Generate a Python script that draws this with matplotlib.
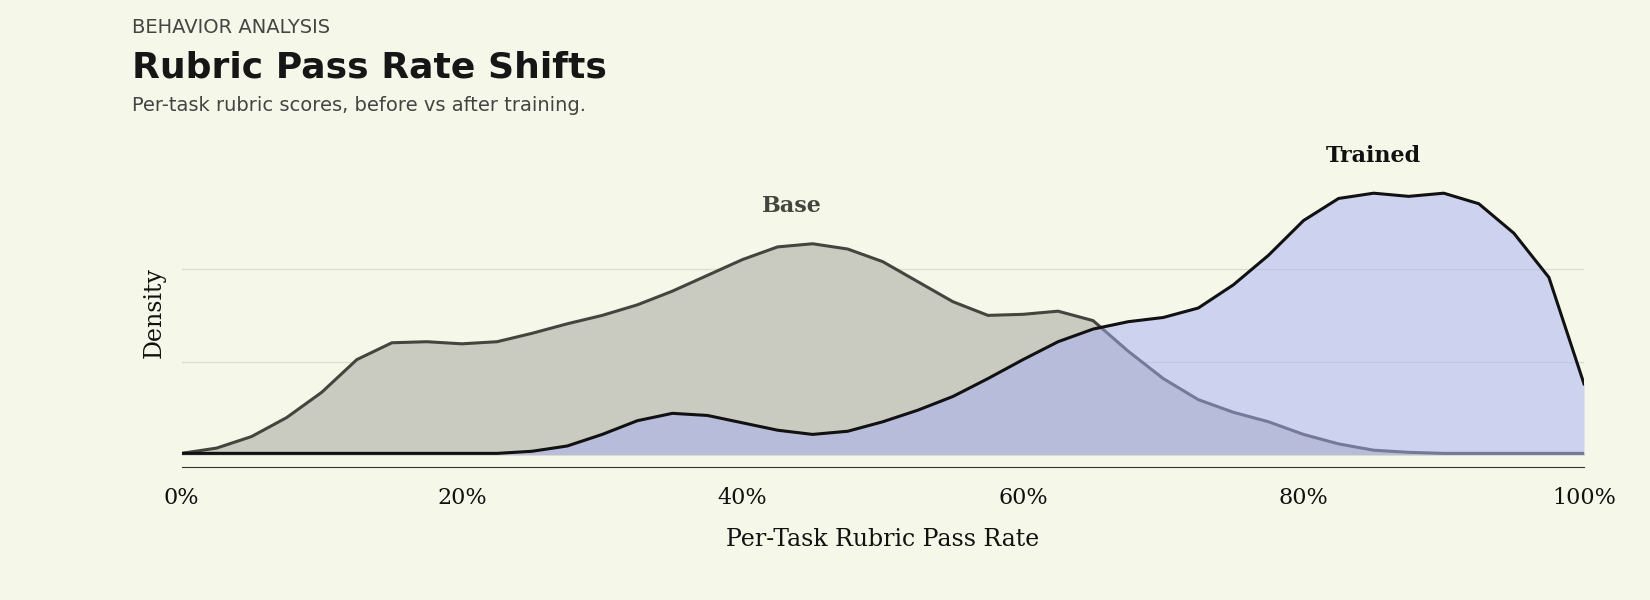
import numpy as np
import matplotlib
matplotlib.use("Agg")
import matplotlib.pyplot as plt

# values, density in gridline units
x_pct = [0, 2.5, 5, 7.5, 10, 12.5, 15, 17.5, 20, 22.5, 25, 27.5, 30, 32.5, 35, 37.5,
         40, 42.5, 45, 47.5, 50, 52.5, 55, 57.5, 60, 62.5, 65, 67.5, 70, 72.5, 75,
         77.5, 80, 82.5, 85, 87.5, 90, 92.5, 95, 97.5, 100]
base_px = [431, 426, 415, 397, 373, 342, 326, 325, 327, 325, 317, 308, 300, 290, 277, 262,
           247, 235, 232, 237, 249, 268, 287, 300, 299, 296, 305, 334, 360, 380, 392,
           401, 413, 422, 428, 430, 431, 431, 431, 431, 431]
trained_px = [431, 431, 431, 431, 431, 431, 431, 431, 431, 431, 429, 424, 413, 400, 393, 395,
              402, 409, 413, 410, 401, 390, 377, 360, 342, 325, 313, 306, 302, 293, 271,
              243, 210, 189, 184, 187, 184, 194, 222, 264, 365]

base = [(432 - v) / 88 for v in base_px]
trained = [(432 - v) / 88 for v in trained_px]
x = [v / 100 for v in x_pct]

bg = "#f5f8e8"
fig = plt.figure(figsize=(16.5, 6), dpi=100, facecolor=bg)
ax = fig.add_axes([0.11, 0.221, 0.85, 0.516], facecolor=bg)

ax.fill_between(x, base, color="#c9cbc0", zorder=2)
ax.plot(x, base, color="#454540", lw=2.2, zorder=3)
ax.fill_between(x, trained, color="#a7aef4", alpha=0.5, lw=0, zorder=4)
ax.plot(x, trained, color="#111111", lw=2.2, zorder=5)

ax.text(0.435, 2.62, "Base", family="DejaVu Serif", fontsize=16, fontweight="bold",
        color="#454540", ha="center")
ax.text(0.85, 3.16, "Trained", family="DejaVu Serif", fontsize=16, fontweight="bold",
        color="#111111", ha="center")

ax.set_xlim(0, 1)
ax.set_ylim(-0.14, 3.2)
ax.set_yticks([1, 2])
ax.set_yticklabels([])
ax.tick_params(axis="y", length=0)
ax.grid(axis="y", color="#dcdfd0", lw=1)
ax.set_xticks([0, 0.2, 0.4, 0.6, 0.8, 1.0])
ax.set_xticklabels(["0%", "20%", "40%", "60%", "80%", "100%"],
                   family="DejaVu Serif", fontsize=16, color="#111111")
ax.tick_params(axis="x", length=0, pad=14)
for s in ["top", "right", "left"]:
    ax.spines[s].set_visible(False)
ax.spines["bottom"].set_color("#333333")
ax.set_xlabel("Per-Task Rubric Pass Rate", family="DejaVu Serif", fontsize=17,
              color="#111111", labelpad=14)
ax.set_ylabel("Density", family="DejaVu Serif", fontsize=17, color="#111111", labelpad=8)

fig.text(0.08, 0.945, "BEHAVIOR ANALYSIS", fontsize=14, color="#444444")
fig.text(0.08, 0.87, "Rubric Pass Rate Shifts", fontsize=26, fontweight="bold",
         color="#161616")
fig.text(0.08, 0.815, "Per-task rubric scores, before vs after training.", fontsize=14,
         color="#444444")

fig.savefig("out.png", dpi=100, facecolor=bg)
